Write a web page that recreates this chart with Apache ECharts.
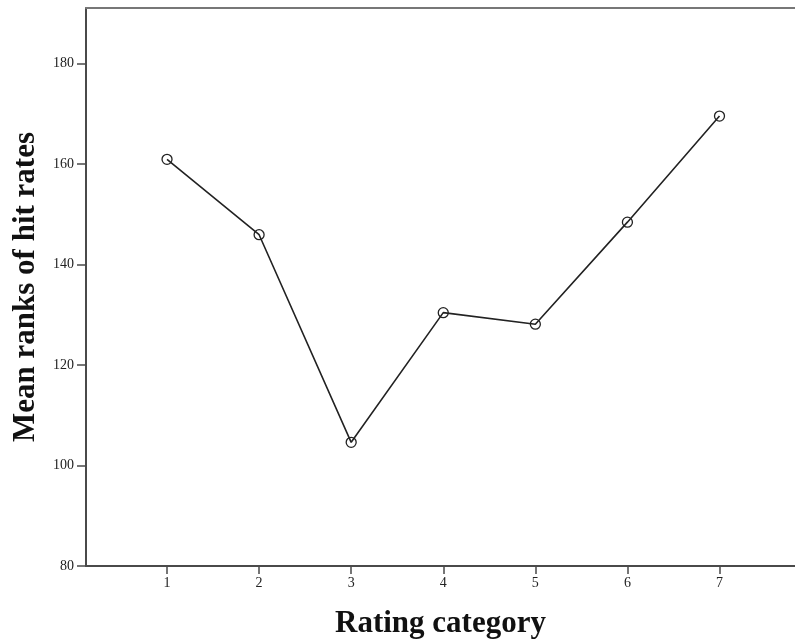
<!DOCTYPE html>
<html>
<head>
<meta charset="utf-8">
<script src="https://cdn.jsdelivr.net/npm/echarts@6/dist/echarts.min.js"></script>
<style>html,body{margin:0;padding:0;background:#fff;}#c{width:795px;height:644px;}</style>
</head>
<body>
<div id="c"></div>
<script>
var categories = [1, 2, 3, 4, 5, 6, 7];
var meanRanks = [160.9, 145.9, 104.6, 130.4, 128.1, 148.4, 169.5];
var yTicks = [80, 100, 120, 140, 160, 180];
var xTitle = 'Rating category';
var yTitle = 'Mean ranks of hit rates';

var chart = echarts.init(document.getElementById('c'), null, {renderer: 'canvas'});
var axisColor = '#4a4a4a';
chart.setOption({
  backgroundColor: '#fff',
  animation: false,
  grid: {left: 86, right: 0, top: 8, bottom: 78, containLabel: false, outerBoundsMode: 'none'},
  xAxis: [{
    type: 'value', min: 0.12, max: 7.82,
    name: xTitle, nameLocation: 'middle', nameGap: 42,
    nameTextStyle: {fontFamily: 'Liberation Serif', fontWeight: 'bold', fontSize: 31, color: '#111'},
    axisLine: {show: true, onZero: false, lineStyle: {color: axisColor, width: 2}},
    axisTick: {show: true, customValues: categories, length: 8, lineStyle: {color: axisColor, width: 1.5}},
    axisLabel: {customValues: categories, fontFamily: 'Liberation Serif', fontSize: 14, color: '#222', margin: 10},
    splitLine: {show: false}
  }, {
    type: 'value', position: 'top', min: 0.12, max: 7.82,
    axisLine: {show: true, onZero: false, lineStyle: {color: '#777', width: 2}},
    axisTick: {show: false}, axisLabel: {show: false}, splitLine: {show: false}
  }],
  yAxis: {
    type: 'value', min: 80, max: 191, interval: 20,
    name: yTitle, nameLocation: 'middle', nameGap: 45,
    nameTextStyle: {fontFamily: 'Liberation Serif', fontWeight: 'bold', fontSize: 31, color: '#111'},
    axisLine: {show: true, onZero: false, lineStyle: {color: axisColor, width: 2}},
    axisTick: {show: true, customValues: yTicks, length: 9, lineStyle: {color: axisColor, width: 1.5}},
    axisLabel: {customValues: yTicks, fontFamily: 'Liberation Serif', fontSize: 14, color: '#222', margin: 12},
    splitLine: {show: false}
  },
  series: [{
    type: 'line',
    data: categories.map(function (c, i) { return [c, meanRanks[i]]; }),
    symbol: 'circle', symbolSize: 10,
    itemStyle: {color: 'rgba(255,255,255,0)', borderColor: '#222', borderWidth: 1.3},
    lineStyle: {color: '#222', width: 1.6}
  }]
});
</script>
</body>
</html>
